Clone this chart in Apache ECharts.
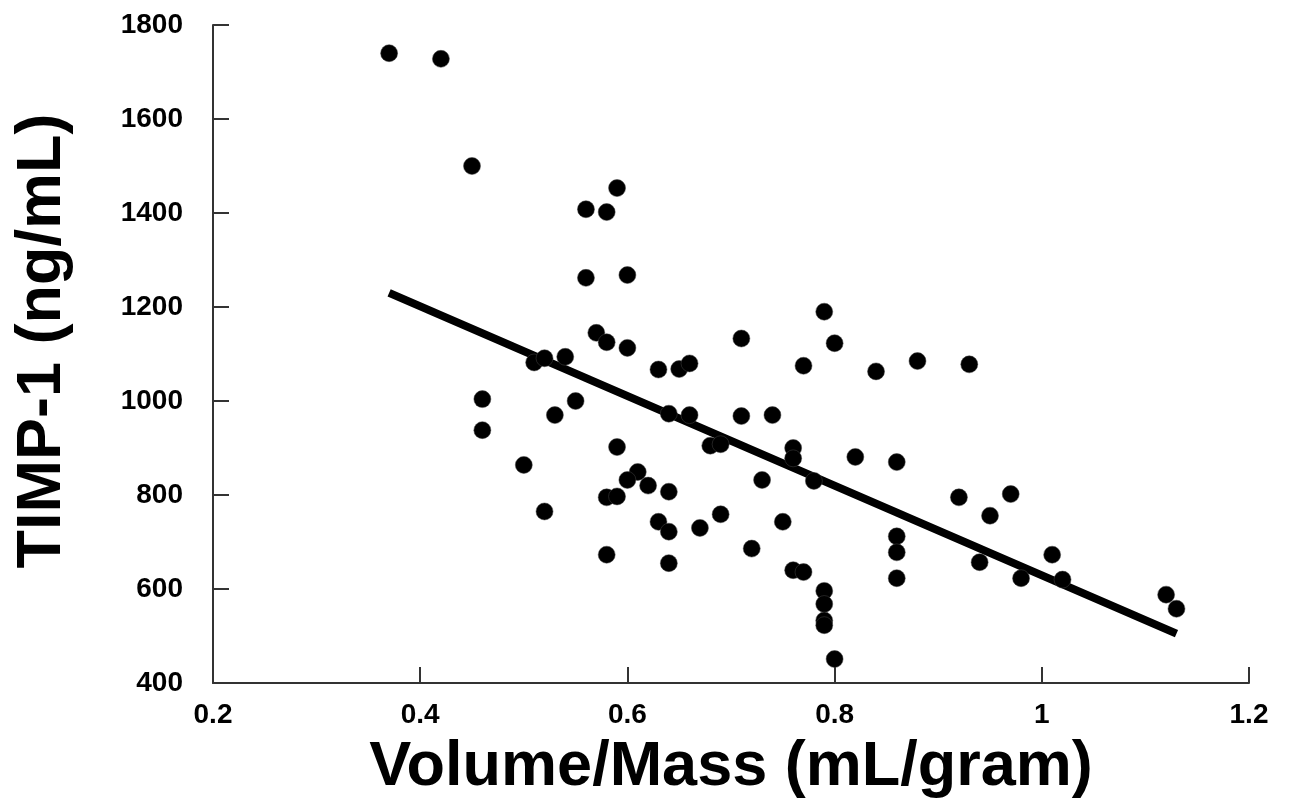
<!DOCTYPE html>
<html>
<head>
<meta charset="utf-8">
<script src="https://cdn.jsdelivr.net/npm/echarts@6/dist/echarts.min.js"></script>
<style>
  html, body { margin: 0; padding: 0; background: #fff; }
  #chart { width: 1290px; height: 803px; }
</style>
</head>
<body>
<div id="chart"></div>
<script>
// volume/mass (mL/gram) of each sample
var volumeMass = [
    0.37, 0.42, 0.45, 0.46, 0.46, 0.50, 0.52, 0.51, 0.52, 0.54, 0.55, 0.53,
    0.59, 0.56, 0.58, 0.56, 0.60, 0.57, 0.58, 0.60,
    0.63, 0.65, 0.66, 0.71, 0.79, 0.80, 0.77, 0.84,
    0.64, 0.66, 0.71, 0.74,
    0.59, 0.61, 0.60, 0.62, 0.58, 0.59, 0.64, 0.63, 0.64, 0.58, 0.64, 0.67, 0.69, 0.68, 0.69,
    0.72, 0.73, 0.75, 0.76, 0.76, 0.78, 0.76, 0.77, 0.79, 0.79, 0.79, 0.79, 0.80, 0.82, 0.86, 0.86, 0.86, 0.86,
    0.88, 0.93, 0.92, 0.95, 0.97, 0.94, 0.98, 1.01, 1.02, 1.12, 1.13
];
// TIMP-1 (ng/mL) of each sample
var timp1 = [
    1740, 1728, 1500, 1004, 938, 864, 765, 1082, 1091, 1094, 1000, 970,
    1453, 1408, 1402, 1262, 1268, 1145, 1125, 1113,
    1067, 1068, 1080, 1133, 1190, 1123, 1075, 1063,
    973, 970, 968, 970,
    902, 849, 832, 820, 795, 797, 807, 743, 722, 673, 655, 730, 759, 905, 908,
    686, 832, 743, 900, 878, 830, 640, 636, 596, 568, 533, 523, 451, 881, 870, 712, 678, 623,
    1085, 1078, 795, 756, 802, 657, 623, 673, 620, 588, 558
];
// regression line end points
var fitX = [0.37, 1.13];
var fitY = [1230, 505];

var points = volumeMass.map(function (x, i) { return [x, timp1[i]]; });
var fitLine = fitX.map(function (x, i) { return [x, fitY[i]]; });

var myChart = echarts.init(document.getElementById('chart'));
var axisColor = '#333';
var font = 'Liberation Sans';
var option = {
    backgroundColor: '#fff',
    animation: false,
    grid: { left: 213, right: 41, top: 25, bottom: 120, containLabel: false, outerBoundsMode: 'none' },
    xAxis: {
        type: 'value',
        min: 0.2,
        max: 1.2,
        interval: 0.2,
        name: 'Volume/Mass (mL/gram)',
        nameLocation: 'middle',
        nameGap: 53,
        nameTextStyle: { fontFamily: font, fontWeight: 'bold', fontSize: 63, color: '#000' },
        axisLine: { show: true, onZero: false, lineStyle: { color: axisColor, width: 2 } },
        axisTick: { show: true, inside: true, length: 16, lineStyle: { color: axisColor, width: 2 } },
        axisLabel: {
            margin: 18,
            fontFamily: font, fontWeight: 'bold', fontSize: 28, color: '#000',
            formatter: function (v) { return String(Math.round(v * 10) / 10); }
        },
        splitLine: { show: false }
    },
    yAxis: {
        type: 'value',
        min: 400,
        max: 1800,
        interval: 200,
        name: 'TIMP-1 (ng/mL)',
        nameLocation: 'middle',
        nameGap: 139,
        nameTextStyle: { fontFamily: font, fontWeight: 'bold', fontSize: 63, color: '#000', padding: [0, 0, 0, 26] },
        axisLine: { show: true, onZero: false, lineStyle: { color: axisColor, width: 2 } },
        axisTick: { show: true, inside: true, length: 16, lineStyle: { color: axisColor, width: 2 } },
        axisLabel: {
            margin: 30,
            fontFamily: font, fontWeight: 'bold', fontSize: 28, color: '#000',
            formatter: function (v) { return String(v); }
        },
        splitLine: { show: false }
    },
    series: [
        {
            type: 'line',
            data: fitLine,
            showSymbol: false,
            symbol: 'none',
            lineStyle: { color: '#000', width: 8 },
            z: 2
        },
        {
            type: 'scatter',
            data: points,
            symbol: 'circle',
            symbolSize: 17,
            itemStyle: { color: '#000', opacity: 1, borderColor: '#444', borderWidth: 0.5 },
            z: 3
        }
    ]
};
myChart.setOption(option);
</script>
</body>
</html>
